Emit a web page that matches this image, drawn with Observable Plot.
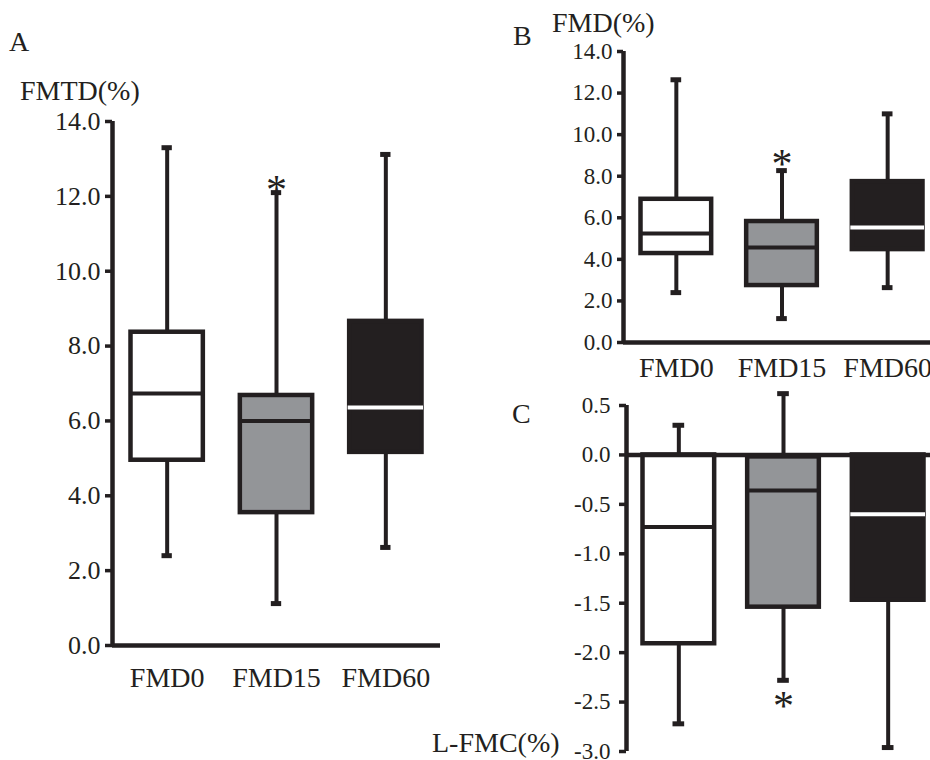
<!DOCTYPE html>
<html><head><meta charset="utf-8">
<script src="https://cdn.jsdelivr.net/npm/d3@7"></script>
<script src="https://cdn.jsdelivr.net/npm/@observablehq/plot@0.6"></script>
<style>
html,body{margin:0;padding:0;background:#fff;overflow:hidden}
#root{position:relative;width:930px;height:760px;font-family:"Liberation Serif",serif;color:#231f20}
.lbl{position:absolute;line-height:1;white-space:nowrap;font-size:28px}
#root svg{position:absolute;max-width:none}
</style></head><body><div id="root"></div>
<script>
// ---- data ----
const categories = ["FMD0", "FMD15", "FMD60"];

// Panel A: FMTD(%)
const aMin = [2.4, 1.12, 2.62];
const aQ1  = [4.95, 3.55, 5.16];
const aMed = [6.73, 6.0, 6.36];
const aQ3  = [8.37, 6.68, 8.66];
const aMax = [13.3, 12.1, 13.12];
const aTicks = [0, 2, 4, 6, 8, 10, 12, 14];

// Panel B: FMD(%)
const bMin = [2.4, 1.15, 2.64];
const bQ1  = [4.28, 2.74, 4.47];
const bMed = [5.24, 4.57, 5.53];
const bQ3  = [6.89, 5.82, 7.74];
const bMax = [12.64, 8.27, 11.0];
const bTicks = [0, 2, 4, 6, 8, 10, 12, 14];

// Panel C: L-FMC(%)
const cMin = [-2.72, -2.28, -2.96];
const cQ1  = [-1.91, -1.54, -1.47];
const cMed = [-0.73, -0.36, -0.6];
const cQ3  = [0, -0.02, 0];
const cMax = [0.3, 0.62, 0];
const cTicks = [0.5, 0, -0.5, -1.0, -1.5, -2.0, -2.5, -3.0];

// significance markers (asterisk on FMD15)
const starred = ["FMD15"];

// ---- styles ----
const ink = "#231f20";
const boxFills = ["#ffffff", "#939598", "#231f20"];
const medColors = [ink, ink, "#ffffff"];

function rowsOf(mn, q1, md, q3, mx) {
  return categories.map((c, i) => ({cat: c, i, min: mn[i], q1: q1[i], med: md[i], q3: q3[i], max: mx[i],
    fill: boxFills[i], medStroke: medColors[i], star: starred.includes(c)}));
}

function panel(rows, o) {
  const x1 = d => d.i, x2 = d => d.i + 1, xc = d => d.i + 0.5;
  const marks = [
    Plot.ruleX(rows, {x: xc, y1: "min", y2: "max", stroke: ink, strokeWidth: 4}),
    Plot.ruleY(rows.filter(d => d.max > d.q3), {y: "max", x1, x2, insetLeft: o.capInset, insetRight: o.capInset, stroke: ink, strokeWidth: 5}),
    Plot.ruleY(rows.filter(d => d.min < d.q1), {y: "min", x1, x2, insetLeft: o.capInset, insetRight: o.capInset, stroke: ink, strokeWidth: 5}),
    Plot.rect(rows, {x1, x2, y1: "q1", y2: "q3", insetLeft: o.boxInset, insetRight: o.boxInset, fill: "fill", stroke: ink, strokeWidth: 4.5}),
    Plot.ruleY(rows, {y: "med", x1, x2, insetLeft: o.boxInset - 1.5, insetRight: o.boxInset - 1.5, stroke: "medStroke", strokeWidth: 4}),
    Plot.ruleX([0], {stroke: ink, strokeWidth: 4.5}),
    Plot.ruleY([0], {stroke: ink, strokeWidth: 4.5}),
    Plot.axisY({ticks: o.yTicks, tickFormat: d => d.toFixed(1), tickSize: o.tickSize, tickPadding: o.tickPadding,
      fontSize: o.tickFont, strokeWidth: 3.5, stroke: ink, label: null}),
    Plot.text(rows.filter(d => d.star), {x: xc, y: o.starBelow ? "min" : "max", text: () => "*",
      fontSize: 42, lineAnchor: "middle", dy: o.starDy, fill: ink})
  ];
  if (o.showX) {
    marks.push(Plot.axisX({ticks: rows.map(xc), tickFormat: v => categories[Math.floor(v)], tickSize: 0,
      tickPadding: o.xPad, fontSize: 28, label: null}));
  }
  const svg = Plot.plot({
    width: o.width, height: o.height,
    marginTop: o.mt, marginBottom: o.mb, marginLeft: o.ml, marginRight: o.mr,
    x: {domain: [0, categories.length], axis: o.showX ? undefined : null},
    y: o.y,
    color: {type: "identity"},
    style: {fontFamily: "Liberation Serif", background: "transparent", color: ink, overflow: "visible"},
    marks
  });
  svg.style.left = o.left + "px";
  svg.style.top = o.top + "px";
  return svg;
}

const root = document.getElementById("root");

root.appendChild(panel(rowsOf(aMin, aQ1, aMed, aQ3, aMax), {
  left: 0, top: 0, width: 470, height: 700, mt: 121, mb: 55, ml: 112, mr: 30,
  y: {domain: [0, 14]}, yTicks: aTicks, tickSize: 7, tickPadding: 5, tickFont: 26,
  showX: true, xPad: 22, boxInset: 18.5, capInset: 49.5, starDy: -2.5, starBelow: false
}));

root.appendChild(panel(rowsOf(bMin, bQ1, bMed, bQ3, bMax), {
  left: 500, top: 0, width: 440, height: 400, mt: 51, mb: 58, ml: 123, mr: 0,
  y: {domain: [0, 14]}, yTicks: bTicks, tickSize: 6, tickPadding: 5, tickFont: 23,
  showX: true, xPad: 15, boxInset: 17.5, capInset: 47.5, starDy: -6.5, starBelow: false
}));

root.appendChild(panel(rowsOf(cMin, cQ1, cMed, cQ3, cMax), {
  left: 500, top: 370, width: 440, height: 390, mt: 35, mb: 9, ml: 126, mr: 0,
  y: {domain: [-3, 0.5]}, yTicks: cTicks, tickSize: 7, tickPadding: 9, tickFont: 23,
  showX: false, xPad: 0, boxInset: 16.5, capInset: 46.5, starDy: 26, starBelow: true
}));

// panel letters and axis titles
const labels = [
  {t: "A", left: 9, top: 27.5},
  {t: "FMTD(%)", left: 20, top: 76.5},
  {t: "B", left: 513, top: 21.5},
  {t: "FMD(%)", left: 552, top: 8.5},
  {t: "C", left: 512, top: 399.5},
  {t: "L-FMC(%)", left: 432, top: 728.5}
];
for (const l of labels) {
  const d = document.createElement("div");
  d.className = "lbl";
  d.textContent = l.t;
  d.style.left = l.left + "px";
  d.style.top = l.top + "px";
  root.appendChild(d);
}
</script></body></html>
